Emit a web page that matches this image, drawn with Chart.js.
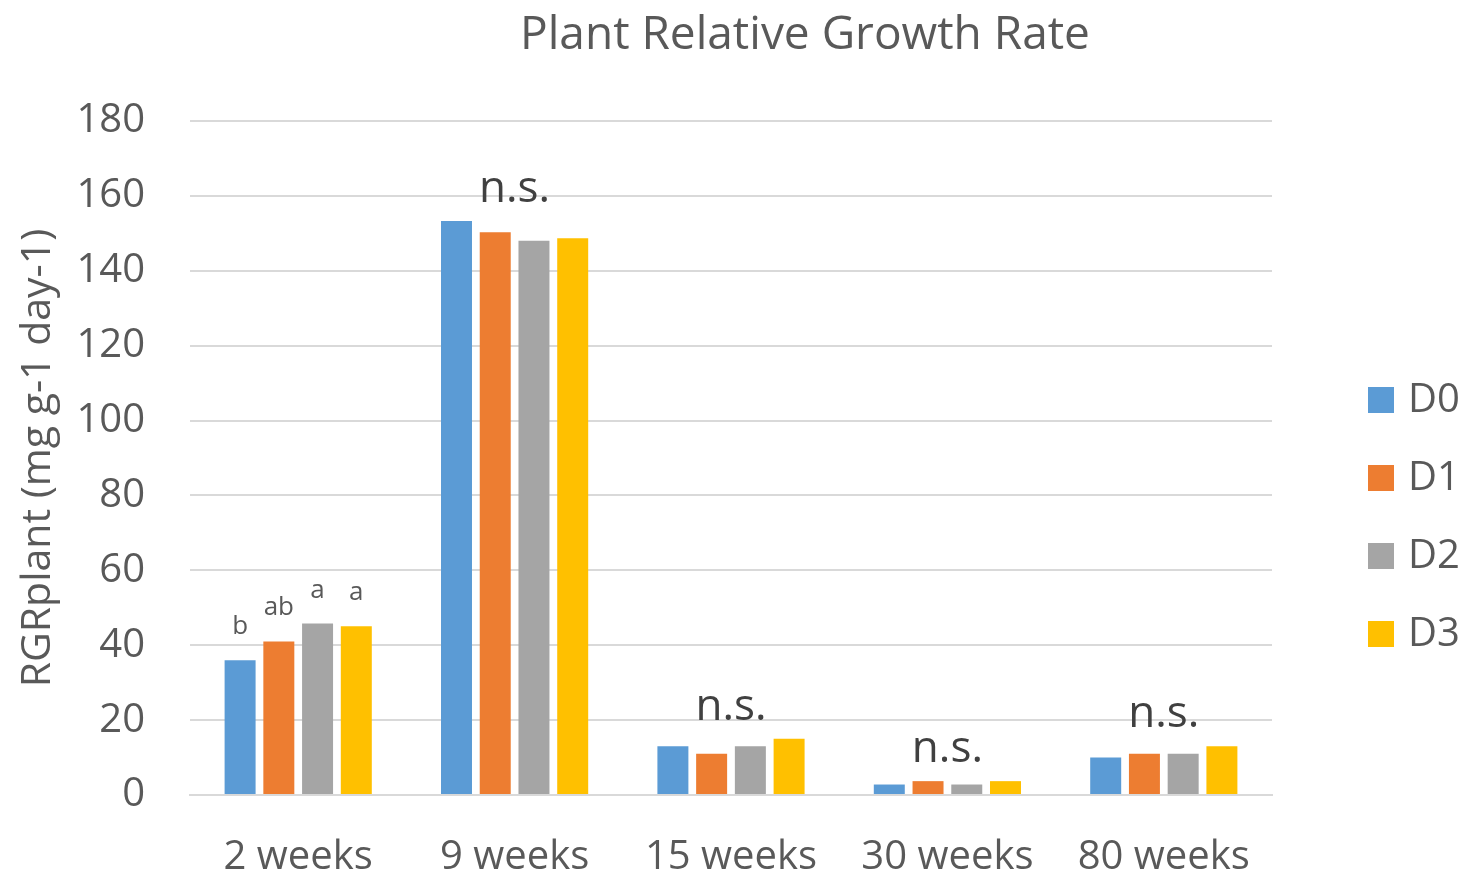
<!DOCTYPE html>
<html>
<head>
<meta charset="utf-8">
<script src="https://cdn.jsdelivr.net/npm/chart.js@4/dist/chart.umd.min.js"></script>
<style>
html,body{margin:0;padding:0;background:#fff;}
#wrap{width:1468px;height:878px;position:relative;}
</style>
</head>
<body>
<div id="wrap"><canvas id="c" width="1468" height="878"></canvas></div>
<script>
const categories = ['2 weeks', '9 weeks', '15 weeks', '30 weeks', '80 weeks'];
const seriesNames = ['D0', 'D1', 'D2', 'D3'];
const D0 = [36, 153.3, 13, 2.8, 10];
const D1 = [41, 150.3, 11, 3.7, 11];
const D2 = [45.8, 148, 13, 2.8, 11];
const D3 = [45.1, 148.7, 15, 3.7, 13];
const colors = ['#5B9BD5', '#ED7D31', '#A5A5A5', '#FFC000'];
const yTicks = [0, 20, 40, 60, 80, 100, 120, 140, 160, 180];
// per-bar significance letters (first group) and per-group labels
const barLetters = [['b', 'ab', 'a', 'a'], null, null, null, null];
const groupLabels = [null, 'n.s.', 'n.s.', 'n.s.', 'n.s.'];
const titleText = 'Plant Relative Growth Rate';
const yTitle = 'RGRplant (mg g-1 day-1)';

const FONT = "'Open Sans', 'Noto Sans', sans-serif";
const allSeries = [D0, D1, D2, D3];

const annotPlugin = {
  id: 'annot',
  afterDatasetsDraw(chart) {
    const ctx = chart.ctx;
    ctx.save();
    ctx.textAlign = 'center';
    ctx.textBaseline = 'alphabetic';
    categories.forEach((c, i) => {
      if (barLetters[i]) {
        ctx.font = "26px " + FONT;
        ctx.fillStyle = '#595959';
        barLetters[i].forEach((t, d) => {
          const bar = chart.getDatasetMeta(d).data[i];
          ctx.fillText(t, bar.x, bar.y - 26);
        });
      }
      if (groupLabels[i]) {
        let minY = Infinity, sx = 0;
        for (let d = 0; d < allSeries.length; d++) {
          const bar = chart.getDatasetMeta(d).data[i];
          minY = Math.min(minY, bar.y);
          sx += bar.x;
        }
        ctx.font = "44px " + FONT;
        ctx.fillStyle = '#404040';
        ctx.fillText(groupLabels[i], sx / allSeries.length, minY - 19);
      }
    });
    ctx.restore();
  }
};

const titlePlugin = {
  id: 'ctitle',
  afterDraw(chart) {
    const ctx = chart.ctx;
    ctx.save();
    ctx.font = "46px " + FONT;
    ctx.fillStyle = '#595959';
    ctx.textAlign = 'center';
    ctx.textBaseline = 'middle';
    ctx.fillText(titleText, 805, 36);
    ctx.restore();
  }
};

const legendPlugin = {
  id: 'clegend',
  afterDraw(chart) {
    const ctx = chart.ctx;
    ctx.save();
    ctx.font = "40px " + FONT;
    ctx.textBaseline = 'middle';
    ctx.textAlign = 'left';
    const startY = 400, gap = 78;
    chart.data.datasets.forEach((ds, i) => {
      const y = startY + i * gap;
      ctx.fillStyle = ds.backgroundColor;
      ctx.fillRect(1368, y - 13, 26, 26);
      ctx.fillStyle = '#595959';
      ctx.fillText(ds.label, 1408, y + 1);
    });
    ctx.restore();
  }
};

new Chart(document.getElementById('c'), {
  type: 'bar',
  data: {
    labels: categories,
    datasets: allSeries.map((arr, i) => ({
      label: seriesNames[i],
      data: arr,
      backgroundColor: colors[i],
      borderWidth: 0,
      categoryPercentage: 0.716,
      barPercentage: 0.8
    }))
  },
  options: {
    responsive: false,
    animation: false,
    devicePixelRatio: 1,
    layout: { padding: { top: 121, right: 196, left: 0, bottom: 0 } },
    plugins: {
      legend: { display: false },
      title: { display: false },
      tooltip: { enabled: false }
    },
    scales: {
      x: {
        afterFit(scale) { scale.height = 83; },
        grid: { display: false, drawTicks: false },
        border: { display: true, color: '#D9D9D9', width: 2 },
        ticks: { color: '#595959', font: { size: 40, family: FONT }, padding: 39, maxRotation: 0, autoSkip: false }
      },
      y: {
        min: 0, max: 180,
        afterFit(scale) { scale.width = 190; },
        afterBuildTicks(axis) { axis.ticks = yTicks.map(v => ({ value: v })); },
        grid: { color: '#D9D9D9', lineWidth: 2, drawTicks: false },
        border: { display: false },
        ticks: { color: '#595959', font: { size: 40, family: FONT }, padding: 45 },
        title: { display: true, text: yTitle, color: '#595959', font: { size: 41, family: FONT }, padding: { top: 14, bottom: 0 } }
      }
    }
  },
  plugins: [annotPlugin, titlePlugin, legendPlugin]
});
</script>
</body>
</html>
